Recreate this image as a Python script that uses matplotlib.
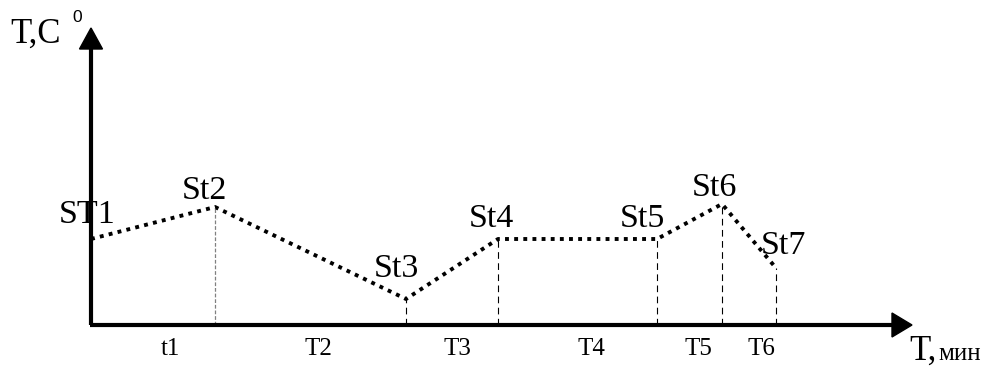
import matplotlib
matplotlib.use("Agg")
import matplotlib.pyplot as plt
from matplotlib.patches import Polygon

# Stage points of the temperature schedule
stages = ["ST1", "St2", "St3", "St4", "St5", "St6", "St7"]
stage_time = [0.0, 12.4, 31.5, 40.7, 56.6, 63.1, 68.5]
stage_temp = [86, 118, 26, 86, 86, 121, 57]
intervals = ["t1", "T2", "T3", "T4", "T5", "T6"]

plt.rcParams["font.family"] = ["Liberation Serif", "DejaVu Serif"]

fig = plt.figure(figsize=(9.9, 3.69), dpi=100)
ax = fig.add_axes([0, 0, 1, 1])
ax.set_xlim(-9.1, 89.9)
ax.set_ylim(-44, 325)
ax.axis("off")

# Axes with arrow heads
ax.plot([0, 0], [0, 278], color="black", lw=3.0, solid_capstyle="butt", zorder=3)
ax.plot([-0.1, 80.4], [0, 0], color="black", lw=3.0, solid_capstyle="butt", zorder=3)
ax.add_patch(Polygon([(0, 297), (-1.15, 276), (1.15, 276)], closed=True,
                     color="black", zorder=3))
ax.add_patch(Polygon([(82.1, 0), (80.1, 12), (80.1, -12)], closed=True,
                     color="black", zorder=3))

# Vertical drop lines from each stage point
for i in range(1, len(stages)):
    if i == 1:
        ax.plot([stage_time[i]] * 2, [0, stage_temp[i]], color="#808080",
                lw=0.9, linestyle=(0, (3, 1.5)), zorder=1)
    else:
        ax.plot([stage_time[i]] * 2, [0, stage_temp[i]], color="black",
                lw=0.8, linestyle=(0, (6, 4)), zorder=1)

# Temperature profile
ax.plot(stage_time, stage_temp, color="black", lw=2.8,
        linestyle=(0, (1, 1.35)), dash_capstyle="butt", zorder=2)

# Stage labels
offsets = [(-4, 16), (-11, 8), (-10, 22), (-7, 12), (-15, 12), (-8, 8), (7, 14)]
for name, t, v, (dx, dy) in zip(stages, stage_time, stage_temp, offsets):
    ax.annotate(name, (t, v), xytext=(dx, dy), textcoords="offset pixels",
                ha="center", va="baseline", fontsize=24.5, zorder=4)

# Interval labels under the time axis
shifts = [17, 8, 5, 14, 9, 12]
for k, name in enumerate(intervals):
    mid = (stage_time[k] + stage_time[k + 1]) / 2
    ax.annotate(name, (mid, 0), xytext=(shifts[k], -30), textcoords="offset pixels",
                ha="center", va="baseline", fontsize=18)

# Axis titles
ax.text(-8.1, 282, "T,C", ha="left", va="baseline", fontsize=25)
ax.text(-1.9, 303, "0", ha="left", va="baseline", fontsize=12.5,
        family=["Liberation Sans", "DejaVu Sans"])
ax.text(81.8, -35, "T,", ha="left", va="baseline", fontsize=25)
ax.text(84.7, -35, "мин", ha="left", va="baseline", fontsize=18)

fig.savefig("out.png", dpi=100)
